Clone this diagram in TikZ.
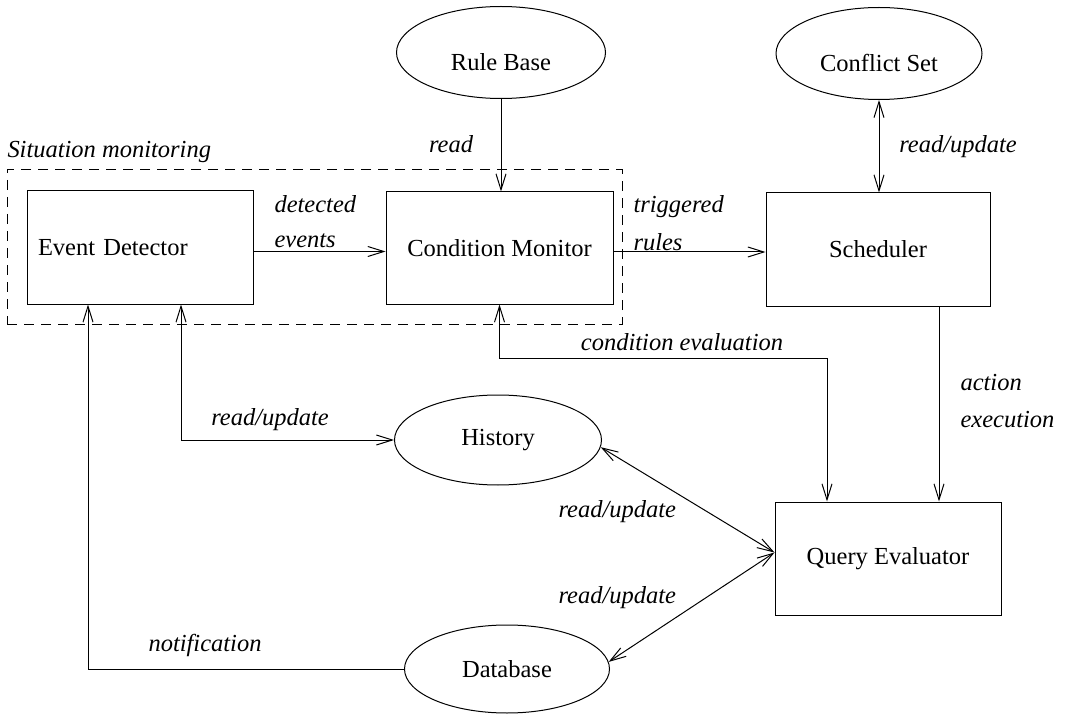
\documentclass[tikz,border=0pt]{standalone}
\usepackage{fontspec}
\setmainfont{Liberation Serif}
\usetikzlibrary{arrows.meta,shapes.geometric}
\begin{document}
\begin{tikzpicture}[x=1pt,y=-1pt,
  font=\fontsize{24.5}{29}\selectfont,
  line width=1pt,
  >={Straight Barb[length=16pt,width=10pt]},
  box/.style={draw, rectangle, inner sep=0pt},
  oval/.style={draw, ellipse, inner sep=0pt},
  topoval/.style={oval, minimum height=92pt, text height=36pt, text depth=0pt},
  lab/.style={font=\fontsize{24.5}{29}\selectfont\itshape, inner sep=0pt},
  group/.style={draw, dash pattern=on 10pt off 7pt, inner sep=0pt}]
\useasboundingbox (0,0) rectangle (1066,714);

% nodes
\node[topoval, minimum width=209pt] (rb) at (501,52.5) {Rule Base};
\node[topoval, minimum width=206pt] (cs) at (879,53.5) {Conflict Set};
\node[group, minimum width=615pt, minimum height=154pt] (sm) at (314.5,247) {};
\node[lab, anchor=base west] (smlab) at (7,158) {Situation monitoring};
\node[box, minimum width=226pt, minimum height=113pt, text width=204pt, inner xsep=11pt, align=left] (ed) at (140,247.5) {Event Detector};
\node[box, minimum width=227pt, minimum height=112pt] (cm) at (499.5,248) {Condition Monitor};
\node[box, minimum width=224pt, minimum height=113pt] (sch) at (878,249.5) {Scheduler};
\node[box, minimum width=226pt, minimum height=113pt] (qe) at (888,558.5) {Query Evaluator};
\node[oval, minimum width=207pt, minimum height=90pt] (hist) at (498,440) {History};
\node[oval, minimum width=205pt, minimum height=88pt] (db) at (507,669) {Database};

% connectors
\draw[->] (rb.south) -- (rb.south |- cm.north);
\node[lab] (lread) at (451,144) {read};

\draw[<->] (cs.south) -- (cs.south |- sch.north);
\node[lab] (lcs) at (958,147) {read/update};

\draw[->] ([yshift=-4pt]ed.east) -- ([yshift=-4pt]ed.east -| cm.west);
\node[lab, anchor=west] (ldet) at (274,204) {detected};
\node[lab, anchor=west] (lev) at (274,241) {events};

\draw[->] ([yshift=-4pt]cm.east) -- ([yshift=-4pt]cm.east -| sch.west);
\node[lab, anchor=west] (ltrig) at (633,207) {triggered};
\node[lab, anchor=west] (lrules) at (633,242) {rules};

\draw[->] ([xshift=61pt]sch.south) -- ([xshift=61pt]sch.south |- qe.north);
\node[lab, anchor=west] (lact) at (960,383) {action};
\node[lab, anchor=west] (lexe) at (960,420) {execution};

\coordinate (ce) at (827,358);
\draw[<->] (cm.south) |- (ce) -- (ce |- qe.north);
\node[lab] (lcond) at (682,342) {condition evaluation};

\coordinate (rh) at (181,440);
\draw[<->] (ed.south -| rh) |- (hist.west);
\node[lab] (lhist) at (270,420) {read/update};

\draw[->] (db.west) -| ([xshift=-52pt]ed.south);
\node[lab] (lnot) at (205,645) {notification};

\draw[<->] (hist.-4) -- ([yshift=6pt]qe.west);
\draw[<->] (db.4) -- ([yshift=6pt]qe.west);
\node[lab, anchor=west] (lhq) at (558,512) {read/update};
\node[lab, anchor=west] (ldq) at (558,598) {read/update};
\end{tikzpicture}
\end{document}
